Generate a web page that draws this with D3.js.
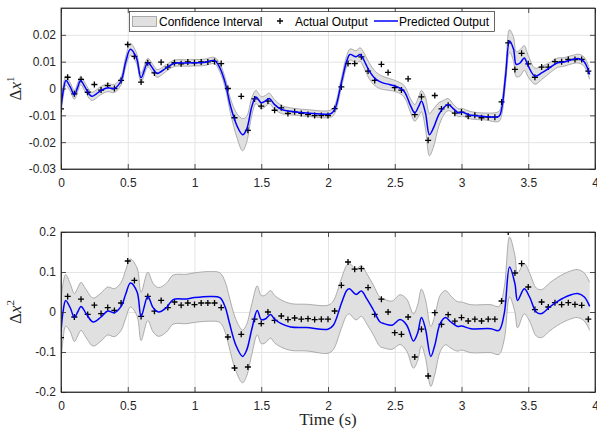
<!DOCTYPE html>
<html><head><meta charset="utf-8">
<script src="https://cdn.jsdelivr.net/npm/d3@7"></script>
<style>body{margin:0;background:#fff}svg{display:block}</style>
</head><body><svg id="c" width="597" height="431"></svg>
<script>
// ---------- data ----------
const timeActual = [0,0.05,0.1,0.15,0.2,0.25,0.3,0.35,0.4,0.45,0.5,0.55,0.6,0.65,0.7,0.75,0.8,0.85,0.9,0.95,
  1,1.05,1.1,1.15,1.2,1.25,1.3,1.35,1.4,1.45,1.5,1.55,1.6,1.65,1.7,1.75,1.8,1.85,1.9,1.95,
  2,2.05,2.1,2.15,2.2,2.25,2.3,2.35,2.4,2.45,2.5,2.55,2.6,2.65,2.7,2.75,2.8,2.85,2.9,2.95,
  3,3.05,3.1,3.15,3.2,3.25,3.3,3.35,3.4,3.45,3.5,3.55,3.6,3.65,3.7,3.75,3.8,3.85,3.9,3.95];
const actualX1 = [-0.0076,0.0042,-0.0020,0.0034,-0.0014,0.0015,-0.0006,0.0011,0.0000,0.0030,
  0.0164,0.0120,0.0024,0.0096,0.0058,0.0098,0.0080,0.0096,0.0092,0.0099,
  0.0096,0.0099,0.0099,0.0101,0.0093,0.0000,-0.0109,-0.0029,-0.0156,-0.0039,
  -0.0066,-0.0047,-0.0081,-0.0072,-0.0093,-0.0087,-0.0093,-0.0097,-0.0101,-0.0101,
  -0.0101,-0.0075,0.0006,0.0093,0.0093,0.0118,0.0065,0.0030,0.0090,0.0060,
  0.0003,-0.0006,0.0036,-0.0097,-0.0031,-0.0193,-0.0026,-0.0076,-0.0062,-0.0092,
  -0.0088,-0.0103,-0.0100,-0.0109,-0.0107,-0.0107,-0.0050,0.0170,0.0071,0.0131,
  0.0092,0.0042,0.0080,0.0080,0.0100,0.0100,0.0108,0.0108,0.0108,0.0065];
const actualX2 = [-0.064,0.039,-0.0125,0.032,-0.006,0.017,-0.004,0.011,0.004,0.0225,
  0.1275,0.079,-0.011,0.039,0.002,0.029,0.011,0.025,0.017,0.0225,
  0.0185,0.0225,0.0225,0.0225,0.011,-0.0625,-0.14,-0.0558,-0.1375,-0.018,
  -0.029,0.0,-0.021,-0.01,-0.019,-0.015,-0.018,-0.0167,-0.019,-0.018,
  -0.018,0.0025,0.0667,0.125,0.107,0.1083,0.061,-0.006,0.032,0.0,
  -0.0517,-0.0558,-0.0125,-0.1125,-0.043,-0.16,-0.0017,-0.031,-0.0067,-0.023,
  -0.014,-0.0225,-0.018,-0.0225,-0.018,-0.018,0.0275,0.2,0.0975,0.121,
  0.0625,0.006,0.025,0.0125,0.0233,0.0185,0.0233,0.019,0.0167,-0.018];

const predT1 = [0,0.02,0.037,0.07,0.1,0.125,0.147,0.18,0.23,0.3,0.35,0.4,0.45,0.485,0.52,0.565,0.6,0.65,0.69,0.72,
  0.79,0.85,0.94,1.0,1.07,1.15,1.19,1.23,1.27,1.32,1.36,1.39,1.43,1.46,1.5,1.53,1.56,1.6,1.65,1.72,
  1.84,2.02,2.05,2.1,2.14,2.165,2.21,2.24,2.26,2.31,2.36,2.41,2.46,2.52,2.57,2.62,2.65,2.68,2.7,2.73,
  2.76,2.79,2.83,2.866,2.9,2.94,2.98,3.0,3.07,3.17,3.28,3.3,3.33,3.36,3.39,3.41,3.44,3.47,3.5,3.55,
  3.6,3.66,3.72,3.77,3.83,3.88,3.92,3.96];
const predX1 = [-0.0072,0.0000,0.0030,0.0005,-0.0024,0.0005,0.0030,0.0005,-0.0029,-0.0007,0.0003,0.0000,0.0029,0.0100,0.0146,0.0114,0.0040,0.0096,0.0073,0.0056,
  0.0077,0.0094,0.0095,0.0096,0.0097,0.0104,0.0077,0.0021,-0.0066,-0.0141,-0.0172,-0.0153,-0.0066,-0.0032,-0.0053,-0.0047,-0.0037,-0.0060,-0.0078,-0.0085,
  -0.0091,-0.0094,-0.0078,0.0021,0.0102,0.0127,0.0118,0.0127,0.0114,0.0065,0.0034,0.0021,0.0015,0.0006,-0.0010,-0.0066,-0.0091,-0.0066,-0.0047,-0.0091,
  -0.0172,-0.0147,-0.0097,-0.0072,-0.0060,-0.0076,-0.0091,-0.0088,-0.0100,-0.0104,-0.0104,-0.0078,0.0046,0.0177,0.0146,0.0090,0.0096,0.0114,0.0083,0.0046,
  0.0058,0.0077,0.0096,0.0099,0.0108,0.0111,0.0099,0.0052];
const ciT1 = [0,0.05,0.3,0.45,0.52,0.6,0.7,0.8,1.15,1.25,1.36,1.45,1.55,1.7,2.0,2.1,2.2,2.3,2.4,2.5,2.6,2.7,2.77,2.85,2.95,3.25,3.33,3.36,3.45,3.55,3.65,3.8,3.96];
const ciHalf1 = [0.0022,0.0016,0.0015,0.0015,0.0022,0.0017,0.0015,0.0012,0.0012,0.0020,0.0060,0.0025,0.0020,0.0013,0.0012,0.0018,0.0022,0.0030,0.0025,0.0020,0.0022,0.0040,0.0085,0.0030,0.0015,0.0012,0.0030,0.0042,0.0050,0.0030,0.0020,0.0015,0.0018];

const predT2 = [0,0.015,0.035,0.07,0.1,0.125,0.15,0.19,0.24,0.3,0.35,0.4,0.45,0.485,0.52,0.57,0.6,0.65,0.69,0.73,
  0.79,0.84,0.94,1.0,1.12,1.19,1.23,1.26,1.31,1.36,1.39,1.43,1.47,1.5,1.53,1.57,1.6,1.65,1.72,1.84,
  2.0,2.04,2.1,2.14,2.16,2.21,2.25,2.29,2.34,2.39,2.42,2.48,2.54,2.59,2.64,2.67,2.7,2.73,2.77,2.8,
  2.84,2.88,2.92,2.97,3.0,3.07,3.22,3.28,3.32,3.36,3.4,3.42,3.47,3.51,3.56,3.6,3.66,3.72,3.81,3.87,
  3.92,3.96];
const predX2 = [-0.050,0.0,0.029,0.010,-0.014,0.0,0.014,-0.005,-0.025,-0.0125,0.0025,-0.0017,0.014,0.045,0.0725,0.050,-0.011,0.039,0.011,0.0,
  0.011,0.031,0.0325,0.036,0.039,0.036,0.0125,-0.025,-0.083,-0.111,-0.096,-0.042,0.004,-0.019,-0.0175,-0.006,-0.018,-0.029,-0.0375,-0.039,
  -0.043,-0.033,0.021,0.054,0.0583,0.044,0.0525,0.0333,0.005,-0.025,-0.029,-0.033,-0.019,-0.033,-0.0725,-0.054,-0.014,-0.0417,-0.111,-0.083,
  -0.029,-0.014,-0.025,-0.036,-0.035,-0.0417,-0.0417,-0.046,-0.004,0.1125,0.071,0.029,0.0583,0.0375,0.0,-0.004,0.0125,0.0267,0.0417,0.046,
  0.0375,0.014];
const ciT2 = [0,0.05,0.3,0.52,1.0,1.2,1.36,1.5,1.8,2.0,2.2,2.5,2.77,3.0,3.3,3.36,3.5,3.96];
const ciHalf2 = [0.075,0.06,0.06,0.06,0.062,0.062,0.066,0.06,0.058,0.06,0.064,0.06,0.075,0.06,0.06,0.075,0.06,0.06];

const xTicks = [0,0.5,1,1.5,2,2.5,3,3.5,4];
const xTickLabels = ["0","0.5","1","1.5","2","2.5","3","3.5","4"];
const y1Ticks = [-0.03,-0.02,-0.01,0,0.01,0.02];
const y1TickLabels = ["-0.03","-0.02","-0.01","0","0.01","0.02"];
const y2Ticks = [-0.2,-0.1,0,0.1,0.2];
const y2TickLabels = ["-0.2","-0.1","0","0.1","0.2"];
const legendLabels = ["Confidence Interval","Actual Output","Predicted Output"];
const xAxisTitle = "Time (s)";

// ---------- drawing ----------
const svg = d3.select("#c");
const L = 61, R = 595;
const x = d3.scaleLinear([0,4],[L,R]);
const AX = "#262626", GRID = "#e4e4e4", BAND = "#e0e0e0", BANDEDGE = "#9a9a9a", BLUE = "#0000ff";
const SANS = "'Liberation Sans', Arial, Helvetica, sans-serif";
const SERIF = "'Liberation Serif', 'Times New Roman', serif";

function panel(id, top, bottom, yDomain, yTicks, yTickLabels, actual, pT, pV, cT, cH, sup) {
  const y = d3.scaleLinear(yDomain,[bottom,top]);
  const H = bottom - top;
  const g = svg.append("g");
  g.append("clipPath").attr("id", id).append("rect").attr("x",L).attr("y",top).attr("width",R-L).attr("height",H);

  // grid
  g.append("g").attr("transform",`translate(0,${bottom})`)
    .call(d3.axisBottom(x).tickValues(xTicks).tickSize(-H).tickFormat(""))
    .call(s=>{s.select(".domain").remove(); s.selectAll("line").attr("stroke",GRID);});
  g.append("g").attr("transform",`translate(${L},0)`)
    .call(d3.axisLeft(y).tickValues(yTicks).tickSize(-(R-L)).tickFormat(""))
    .call(s=>{s.select(".domain").remove(); s.selectAll("line").attr("stroke",GRID);});

  const half = d3.scaleLinear(cT, cH).clamp(true);
  const pts = pT.map((t,i)=>({t, m:pV[i], h:half(t)}));
  const curve = d3.curveCatmullRom.alpha(0.5);
  const dg = g.append("g").attr("clip-path",`url(#${id})`);
  dg.append("path").datum(pts).attr("fill",BAND).attr("stroke","none")
    .attr("d", d3.area().x(d=>x(d.t)).y0(d=>y(d.m-d.h)).y1(d=>y(d.m+d.h)).curve(curve));
  dg.append("path").datum(pts).attr("fill","none").attr("stroke",BANDEDGE).attr("stroke-width",0.8)
    .attr("d", d3.line().x(d=>x(d.t)).y(d=>y(d.m+d.h)).curve(curve));
  dg.append("path").datum(pts).attr("fill","none").attr("stroke",BANDEDGE).attr("stroke-width",0.8)
    .attr("d", d3.line().x(d=>x(d.t)).y(d=>y(d.m-d.h)).curve(curve));
  // actual markers
  dg.append("g").selectAll("path").data(actual.map((v,i)=>({t:timeActual[i], v})))
    .join("path").attr("transform",d=>`translate(${x(d.t)},${y(d.v)})`)
    .attr("d","M-3,0H3M0,-3V3").attr("stroke","#000").attr("stroke-width",1.3).attr("fill","none");
  // predicted line
  dg.append("path").datum(pts).attr("fill","none").attr("stroke",BLUE).attr("stroke-width",1.5)
    .attr("d", d3.line().x(d=>x(d.t)).y(d=>y(d.m)).curve(curve));

  // axes
  const styleAxis = s => { s.select(".domain").attr("stroke",AX).attr("stroke-width",0.8);
    s.selectAll(".tick line").attr("stroke",AX).attr("stroke-width",0.8);
    s.selectAll("text").attr("fill",AX).style("font-family",SANS).style("font-size","12px"); };
  g.append("g").attr("transform",`translate(0,${bottom})`)
    .call(d3.axisBottom(x).tickValues(xTicks).tickFormat((d,i)=>xTickLabels[i]).tickSizeInner(-5).tickSizeOuter(0).tickPadding(9))
    .call(styleAxis);
  g.append("g").attr("transform",`translate(0,${top})`)
    .call(d3.axisTop(x).tickValues(xTicks).tickFormat("").tickSizeInner(-5).tickSizeOuter(0))
    .call(styleAxis);
  g.append("g").attr("transform",`translate(${L},0)`)
    .call(d3.axisLeft(y).tickValues(yTicks).tickFormat((d,i)=>yTickLabels[i]).tickSizeInner(-5).tickSizeOuter(0).tickPadding(5))
    .call(styleAxis);
  g.append("g").attr("transform",`translate(${R},0)`)
    .call(d3.axisRight(y).tickValues(yTicks).tickFormat("").tickSizeInner(-5).tickSizeOuter(0))
    .call(styleAxis);
  // full box
  g.append("rect").attr("x",L).attr("y",top).attr("width",R-L).attr("height",H)
    .attr("fill","none").attr("stroke",AX).attr("stroke-width",0.8);

  // y label
  const yl = g.append("text").attr("transform",`translate(21,${(top+bottom)/2}) rotate(-90)`)
    .attr("text-anchor","middle").attr("fill",AX).style("font-family",SERIF).style("font-size","17px");
  yl.append("tspan").text("Δ");
  yl.append("tspan").style("font-style","italic").text("x");
  yl.append("tspan").attr("dy","-7").style("font-size","11px").text(sup);
  return y;
}

panel("clip1", 8, 169, [-0.03,0.03], y1Ticks, y1TickLabels, actualX1, predT1, predX1, ciT1, ciHalf1, "1");
panel("clip2", 232, 392, [-0.2,0.2], y2Ticks, y2TickLabels, actualX2, predT2, predX2, ciT2, ciHalf2, "2");

// x axis title
svg.append("text").attr("x",328).attr("y",425).attr("text-anchor","middle").attr("fill",AX)
  .style("font-family",SERIF).style("font-size","17px").text(xAxisTitle);

// legend
const lg = svg.append("g").style("font-family",SANS).style("font-size","12px");
lg.append("rect").attr("x",129.5).attr("y",11.5).attr("width",365).attr("height",20)
  .attr("fill","#fff").attr("stroke",AX).attr("stroke-width",0.7);
lg.append("rect").attr("x",132.5).attr("y",16.5).attr("width",24).attr("height",10)
  .attr("fill",BAND).attr("stroke",BANDEDGE).attr("stroke-width",0.8);
lg.append("text").attr("x",159).attr("y",25.5).attr("fill","#000").text(legendLabels[0]);
lg.append("path").attr("transform","translate(280,21)").attr("d","M-3,0H3M0,-3V3")
  .attr("stroke","#000").attr("stroke-width",1.3);
lg.append("text").attr("x",295).attr("y",25.5).attr("fill","#000").text(legendLabels[1]);
lg.append("line").attr("x1",374).attr("x2",398).attr("y1",21).attr("y2",21)
  .attr("stroke",BLUE).attr("stroke-width",1.5);
lg.append("text").attr("x",399).attr("y",25.5).attr("fill","#000").text(legendLabels[2]);
</script></body></html>
